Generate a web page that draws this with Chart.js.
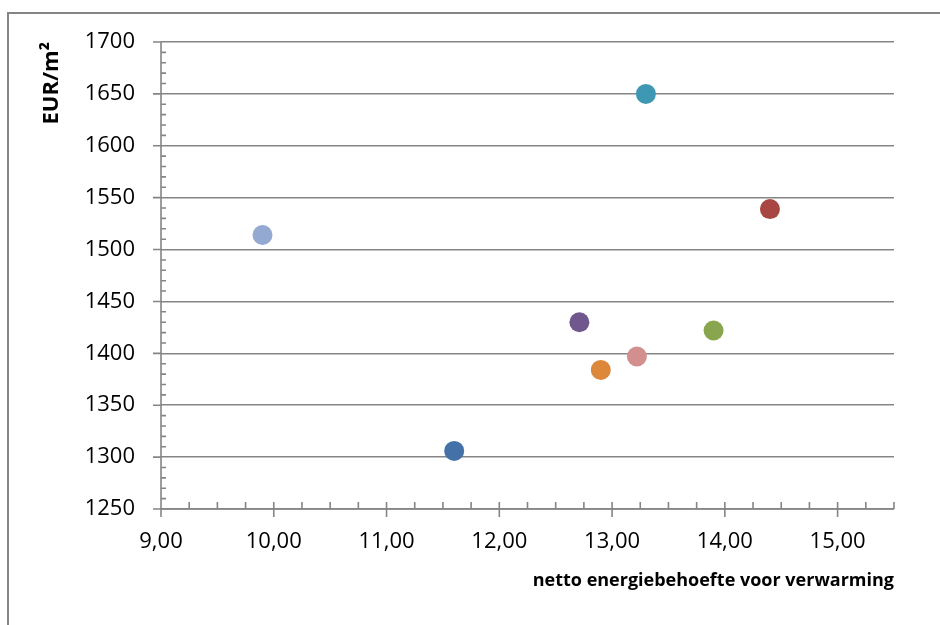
<!DOCTYPE html>
<html>
<head>
<meta charset="utf-8">
<script src="https://cdn.jsdelivr.net/npm/chart.js@4.4.1/dist/chart.umd.min.js"></script>
<style>
  html, body { margin: 0; padding: 0; background: #ffffff; }
  #wrap { width: 940px; height: 625px; position: relative; }
</style>
</head>
<body>
<div id="wrap"><canvas id="c" width="940" height="625"></canvas></div>
<script>
// Net heating energy demand vs. cost per m² (one point per variant)
const energyDemand = [9.90, 11.60, 13.30, 14.40, 12.71, 13.90, 13.22, 12.90];
const costPerM2    = [1514, 1306, 1650, 1539, 1430, 1422, 1397, 1384];
const pointColors  = ['#93A9D2', '#4571A9', '#3E98B3', '#A84643', '#70588F', '#89A64E', '#D28F8E', '#DD873A'];

const xAxisTitle = 'netto energiebehoefte voor verwarming';
const yAxisTitle = 'EUR/m²';

const AXIS_GREY = '#858585';

const points = energyDemand.map((x, i) => ({ x: x, y: costPerM2[i] }));

// Excel-style axis ticks: major ticks outside, minor ticks inside, plus outer frame
const axisDecor = {
  id: 'axisDecor',
  afterDraw(chart) {
    const ctx = chart.ctx;
    const xs = chart.scales.x, ys = chart.scales.y;
    const area = chart.chartArea;
    ctx.save();
    ctx.strokeStyle = AXIS_GREY;
    ctx.lineWidth = 1.6;
    ctx.beginPath();
    // y axis line (runs slightly below the x axis)
    ctx.moveTo(area.left, area.top);
    ctx.lineTo(area.left, area.bottom + 8);
    // x axis line (runs slightly left of the y axis)
    ctx.moveTo(area.left - 8, area.bottom);
    ctx.lineTo(area.right, area.bottom);
    // y ticks
    for (let v = ys.min; v <= ys.max + 1e-9; v += 10) {
      const py = ys.getPixelForValue(v);
      if (Math.round(v) % 50 === 0) {
        ctx.moveTo(area.left - 8, py); ctx.lineTo(area.left, py);
      } else {
        ctx.moveTo(area.left, py); ctx.lineTo(area.left + 5, py);
      }
    }
    // x ticks
    for (let k = 0; k <= (xs.max - xs.min) * 4 + 1e-6; k++) {
      const v = xs.min + k * 0.25;
      const px = xs.getPixelForValue(v);
      if (k % 4 === 0) {
        ctx.moveTo(px, area.bottom - 7); ctx.lineTo(px, area.bottom + 8);
      } else {
        ctx.moveTo(px, area.bottom - 7); ctx.lineTo(px, area.bottom);
      }
    }
    ctx.stroke();
    // frame around the chart object
    ctx.lineWidth = 2;
    ctx.beginPath();
    ctx.moveTo(8, 625);
    ctx.lineTo(8, 13);
    ctx.lineTo(940, 13);
    ctx.stroke();
    ctx.restore();
  }
};

new Chart(document.getElementById('c'), {
  type: 'scatter',
  data: {
    datasets: [{
      data: points,
      backgroundColor: pointColors,
      borderWidth: 0,
      pointRadius: 10,
      pointHoverRadius: 10
    }]
  },
  options: {
    responsive: false,
    animation: false,
    devicePixelRatio: 1,
    plugins: { legend: { display: false }, tooltip: { enabled: false } },
    layout: { padding: { left: 0, top: 42, right: 46, bottom: 0 } },
    scales: {
      x: {
        type: 'linear',
        min: 9,
        max: 15.5,
        afterFit(scale) { scale.height = 116; },
        afterBuildTicks(scale) {
          const t = [];
          for (let v = 9; v <= 15; v++) t.push({ value: v });
          scale.ticks = t;
        },
        grid: { display: false, drawTicks: false },
        border: { display: false },
        ticks: {
          padding: 20,
          color: '#000000',
          font: { family: 'Open Sans', size: 22 },
          maxRotation: 0,
          callback: v => v.toFixed(2).replace('.', ',')
        },
        title: {
          display: true,
          text: xAxisTitle,
          align: 'end',
          color: '#000000',
          font: { family: 'Open Sans', size: 18, weight: 'bold' },
          padding: { top: 0, bottom: 33 }
        }
      },
      y: {
        type: 'linear',
        min: 1250,
        max: 1700,
        afterFit(scale) { scale.width = 161; },
        afterBuildTicks(scale) {
          const t = [];
          for (let v = 1250; v <= 1700; v += 50) t.push({ value: v });
          scale.ticks = t;
        },
        grid: {
          color: AXIS_GREY,
          lineWidth: 1.6,
          drawTicks: false
        },
        border: { display: false },
        ticks: {
          padding: 26,
          color: '#000000',
          font: { family: 'Open Sans', size: 22 },
          callback: v => String(v)
        },
        title: {
          display: true,
          text: yAxisTitle,
          align: 'end',
          color: '#000000',
          font: { family: 'Open Sans', size: 22, weight: 'bold' },
          padding: { top: 39, bottom: 0 }
        }
      }
    }
  },
  plugins: [axisDecor]
});
</script>
</body>
</html>
